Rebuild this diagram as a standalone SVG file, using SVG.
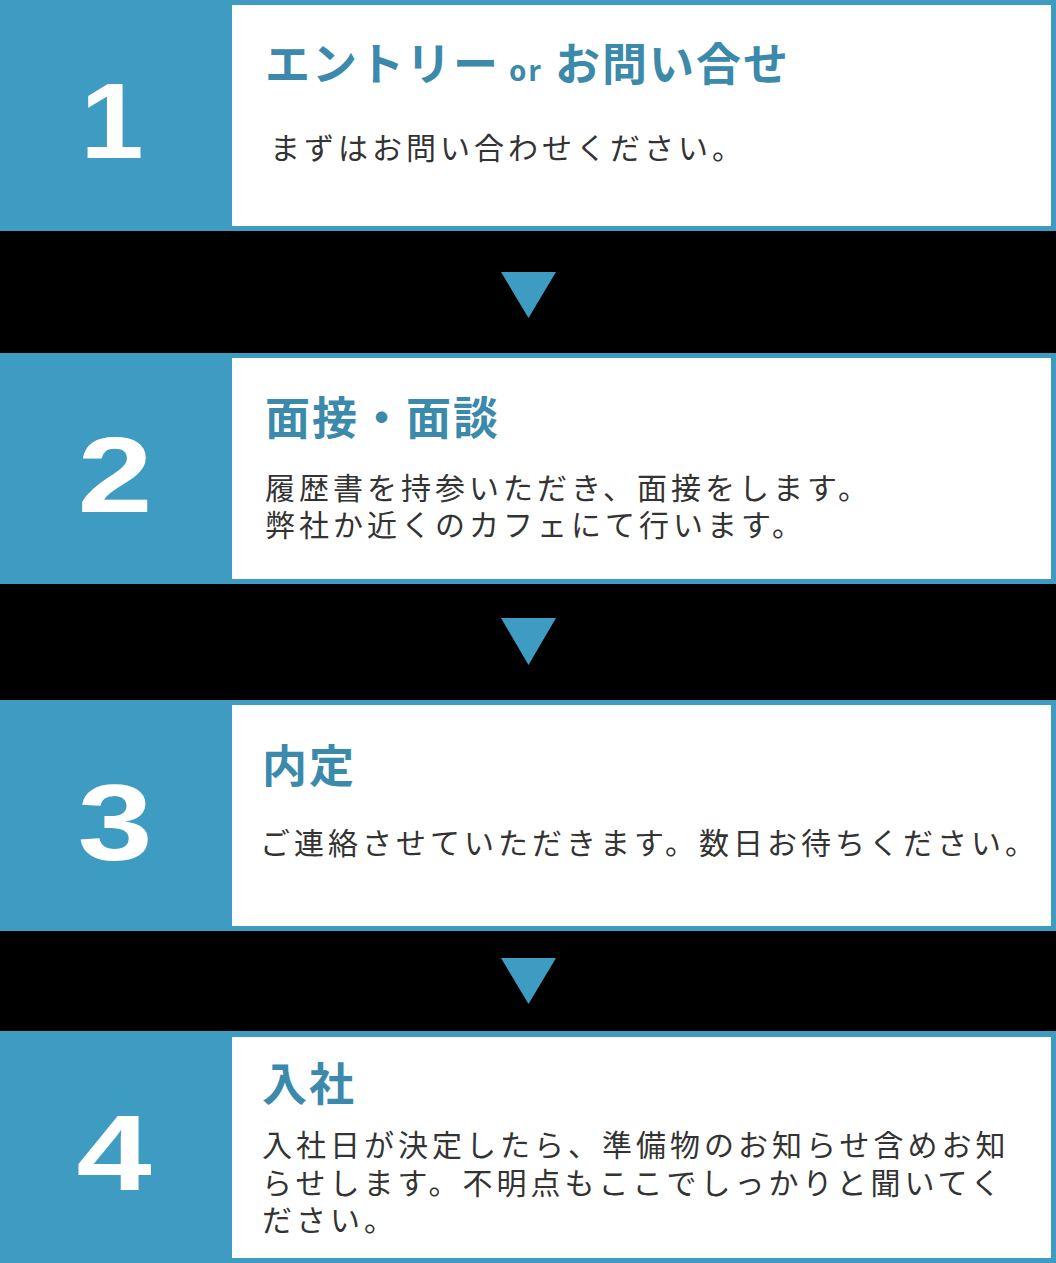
<svg xmlns="http://www.w3.org/2000/svg" width="1056" height="1263" viewBox="0 0 1056 1263">
<style>
.band{fill:#3e9bc1}
.box{fill:#ffffff}
.num{font-family:"Liberation Sans",Arial,sans-serif;font-weight:bold;font-size:108px;fill:#ffffff;text-anchor:middle}
.ttl{font-family:"Noto Sans CJK JP","Noto Sans",sans-serif;font-weight:bold;font-size:45px;fill:#3b89ab;letter-spacing:2px}
.or{font-family:"Noto Sans","Liberation Sans",sans-serif;font-weight:bold;font-size:28px;fill:#3b89ab}
.body{font-family:"Noto Sans CJK JP","Noto Sans",sans-serif;font-size:30px;fill:#333333;letter-spacing:4px}
.arrow{fill:#3e9bc1}
</style>
<rect x="0" y="0" width="1056" height="1263" fill="#000000"/>
<g id="connectors">
<polygon class="arrow" points="501,272 556,272 528.5,318"/>
<polygon class="arrow" points="501,618 556,618 528.5,665"/>
<polygon class="arrow" points="501,958 556,958 528.5,1004"/>
</g>
<g id="step1">
<rect class="band" x="0" y="0" width="1056" height="231"/>
<rect class="box" x="232" y="5" width="819" height="221"/>
<text class="num" transform="translate(112,158) scale(1.05,1)">1</text>
<text class="ttl" x="265" y="81">エントリー<tspan class="or" dx="9">or</tspan><tspan dx="12">お問い合せ</tspan></text>
<text class="body" x="270" y="159">まずはお問い合わせください。</text>
</g>
<g id="step2">
<rect class="band" x="0" y="353" width="1056" height="231"/>
<rect class="box" x="232" y="358" width="819" height="221"/>
<text class="num" transform="translate(115,512) scale(1.25,1)">2</text>
<text class="ttl" x="265" y="435">面接・面談</text>
<text class="body" x="265" y="499">履歴書を持参いただき、面接をします。</text>
<text class="body" x="265" y="536">弊社か近くのカフェにて行います。</text>
</g>
<g id="step3">
<rect class="band" x="0" y="700" width="1056" height="231"/>
<rect class="box" x="232" y="705" width="819" height="221"/>
<text class="num" transform="translate(115,860) scale(1.25,1)">3</text>
<text class="ttl" x="262" y="783">内定</text>
<text class="body" x="260" y="854">ご連絡させていただきます。数日お待ちください。</text>
</g>
<g id="step4">
<rect class="band" x="0" y="1031" width="1056" height="232"/>
<rect class="box" x="232" y="1037" width="819" height="221"/>
<text class="num" transform="translate(114,1190) scale(1.25,1)">4</text>
<text class="ttl" x="262" y="1101">入社</text>
<text class="body" x="262" y="1156">入社日が決定したら、準備物のお知らせ含めお知</text>
<text class="body" x="262" y="1194">らせします。不明点もここでしっかりと聞いてく</text>
<text class="body" x="262" y="1231">ださい。</text>
</g>
</svg>
